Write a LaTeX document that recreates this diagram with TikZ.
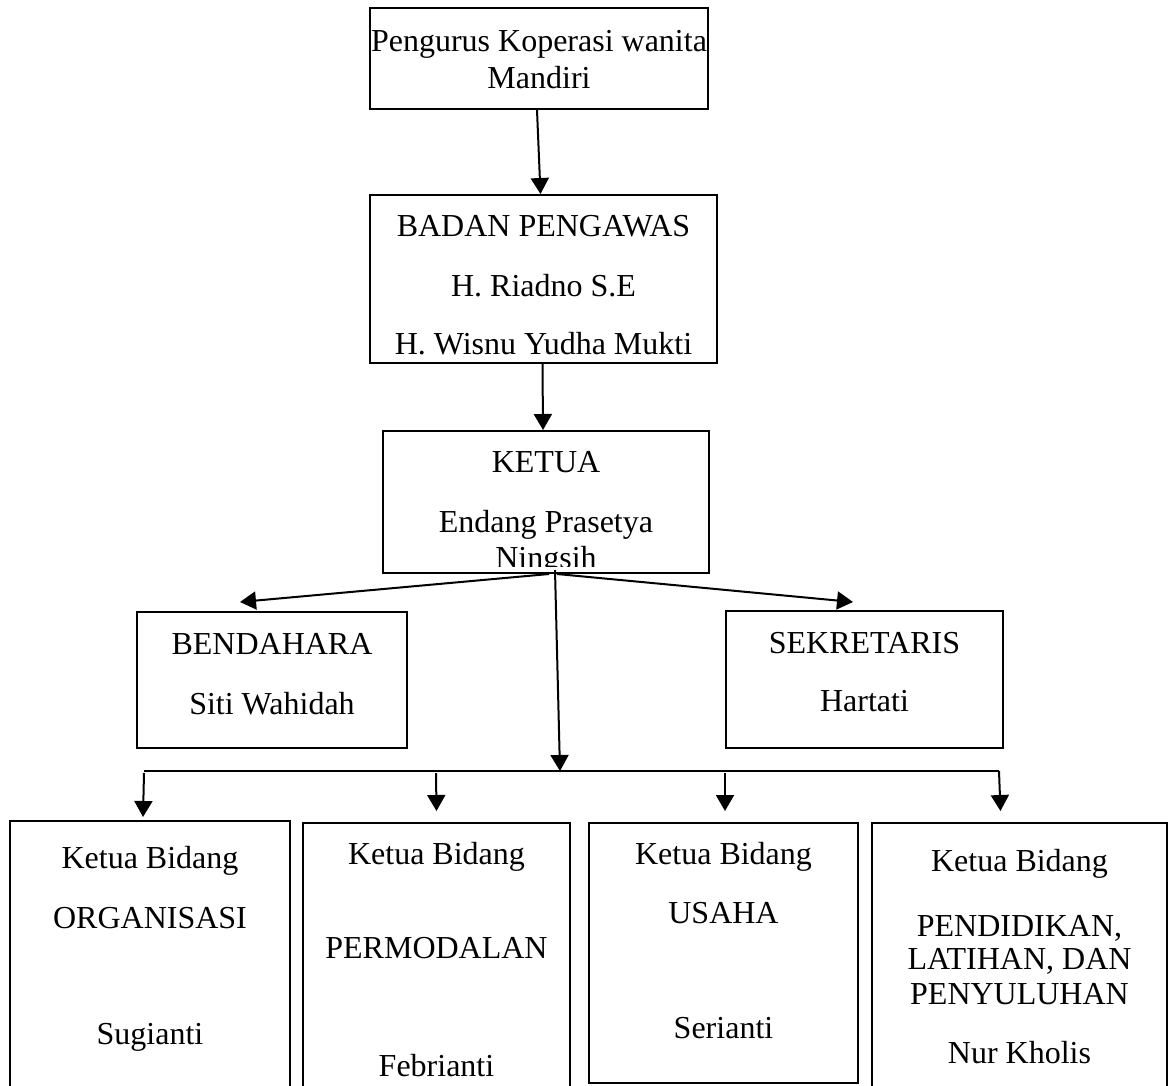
\documentclass[tikz,border=0pt]{standalone}
\usepackage{fontspec}
\setmainfont{Liberation Serif}
\usetikzlibrary{arrows.meta}

\tikzset{
  kotak/.style={draw, line width=2pt, inner sep=0pt},
  isi/.style={align=center, anchor=base, inner sep=0pt, font=\fontsize{32}{36}\selectfont},
  panah/.style={line width=2pt, -{Triangle[length=16pt,width=18pt]}},
  garis/.style={line width=1.2pt}
}

\begin{document}
\begin{tikzpicture}[x=1pt,y=-1pt]
    \useasboundingbox (0,0) rectangle (1173,1085);

    % kotak-kotak
    \node[kotak, minimum width=338pt, minimum height=101pt] (pengurus) at (539,58.5) {};
    \node[kotak, minimum width=347pt, minimum height=168pt] (badan) at (543.5,279) {};
    \node[kotak, minimum width=326pt, minimum height=142pt] (ketua) at (546,502) {};
    \node[kotak, minimum width=270pt, minimum height=136pt] (bendahara) at (272,680) {};
    \node[kotak, minimum width=277pt, minimum height=137pt] (sekretaris) at (864.5,679.5) {};
    \node[kotak, minimum width=280pt, minimum height=270pt] (org) at (150,956) {};
    \node[kotak, minimum width=267pt, minimum height=268pt] (modal) at (436.5,957) {};
    \node[kotak, minimum width=269pt, minimum height=260pt] (usaha) at (723.5,953) {};
    \node[kotak, minimum width=295pt, minimum height=268pt] (didik) at (1019.5,957) {};

    % isi (anchor base = baris terakhir)
    \node[isi] (tpengurus) at (539,88) {Pengurus Koperasi wanita\\[1pt]Mandiri};
    \node[isi] (tbadan) at (543.5,354) {BADAN PENGAWAS\\[24pt]H. Riadno S.E\\[22pt]H. Wisnu Yudha Mukti};
    \begin{scope}
        \clip (ketua.north west) rectangle ([yshift=8pt]ketua.south east);
        \node[isi] (tketua) at (546,568) {KETUA\\[24pt]Endang Prasetya\\Ningsih};
    \end{scope}
    \node[isi] (tbendahara) at (272,714) {BENDAHARA\\[24pt]Siti Wahidah};
    \node[isi] (tsekretaris) at (864.5,711) {SEKRETARIS\\[22pt]Hartati};
    \node[isi] (torg) at (150,1044) {Ketua Bidang\\[24pt]ORGANISASI\\[80pt]Sugianti};
    \node[isi] (tmodal) at (436.5,1076) {Ketua Bidang\\[58pt]PERMODALAN\\[82pt]Febrianti};
    \node[isi] (tusaha) at (723.5,1038) {Ketua Bidang\\[23pt]USAHA\\[79pt]Serianti};
    \node[isi] (tdidik) at (1019.5,1063) {Ketua Bidang\\[29pt]PENDIDIKAN,\\[-3pt]LATIHAN, DAN\\[-1pt]PENYULUHAN\\[23pt]Nur Kholis};

    % garis bidang
    \coordinate (kiri) at (144,771);
    \coordinate (kanan) at (999,771);
    \coordinate (cabang) at (560,771);
    \draw[garis] (kiri) -- (kanan);

    % panah
    \draw[panah] ([xshift=-2pt]pengurus.south) -- ([xshift=-3pt]badan.north);
    \draw[panah] ([xshift=-1pt]badan.south) -- ([xshift=-3pt]ketua.north);
    \draw[panah] ([xshift=3pt]ketua.south) -- ([xshift=-32pt,yshift=9pt]bendahara.north);
    \draw[panah] ([xshift=11pt]ketua.south) -- ([xshift=-11.5pt,yshift=8pt]sekretaris.north);
    \draw[panah] ([xshift=9pt,yshift=4pt]ketua.south) -- (cabang);
    \draw[panah] ([yshift=-2pt]kiri) -- ([xshift=-7pt,yshift=3pt]org.north);
    \draw[panah] ([xshift=292pt,yshift=-2pt]kiri) -- ([yshift=11pt]modal.north);
    \draw[panah] ([xshift=581pt,yshift=-2pt]kiri) -- ([xshift=1.5pt,yshift=11pt]usaha.north);
    \draw[panah] (kanan) -- ([xshift=-19pt,yshift=11pt]didik.north);
\end{tikzpicture}
\end{document}
